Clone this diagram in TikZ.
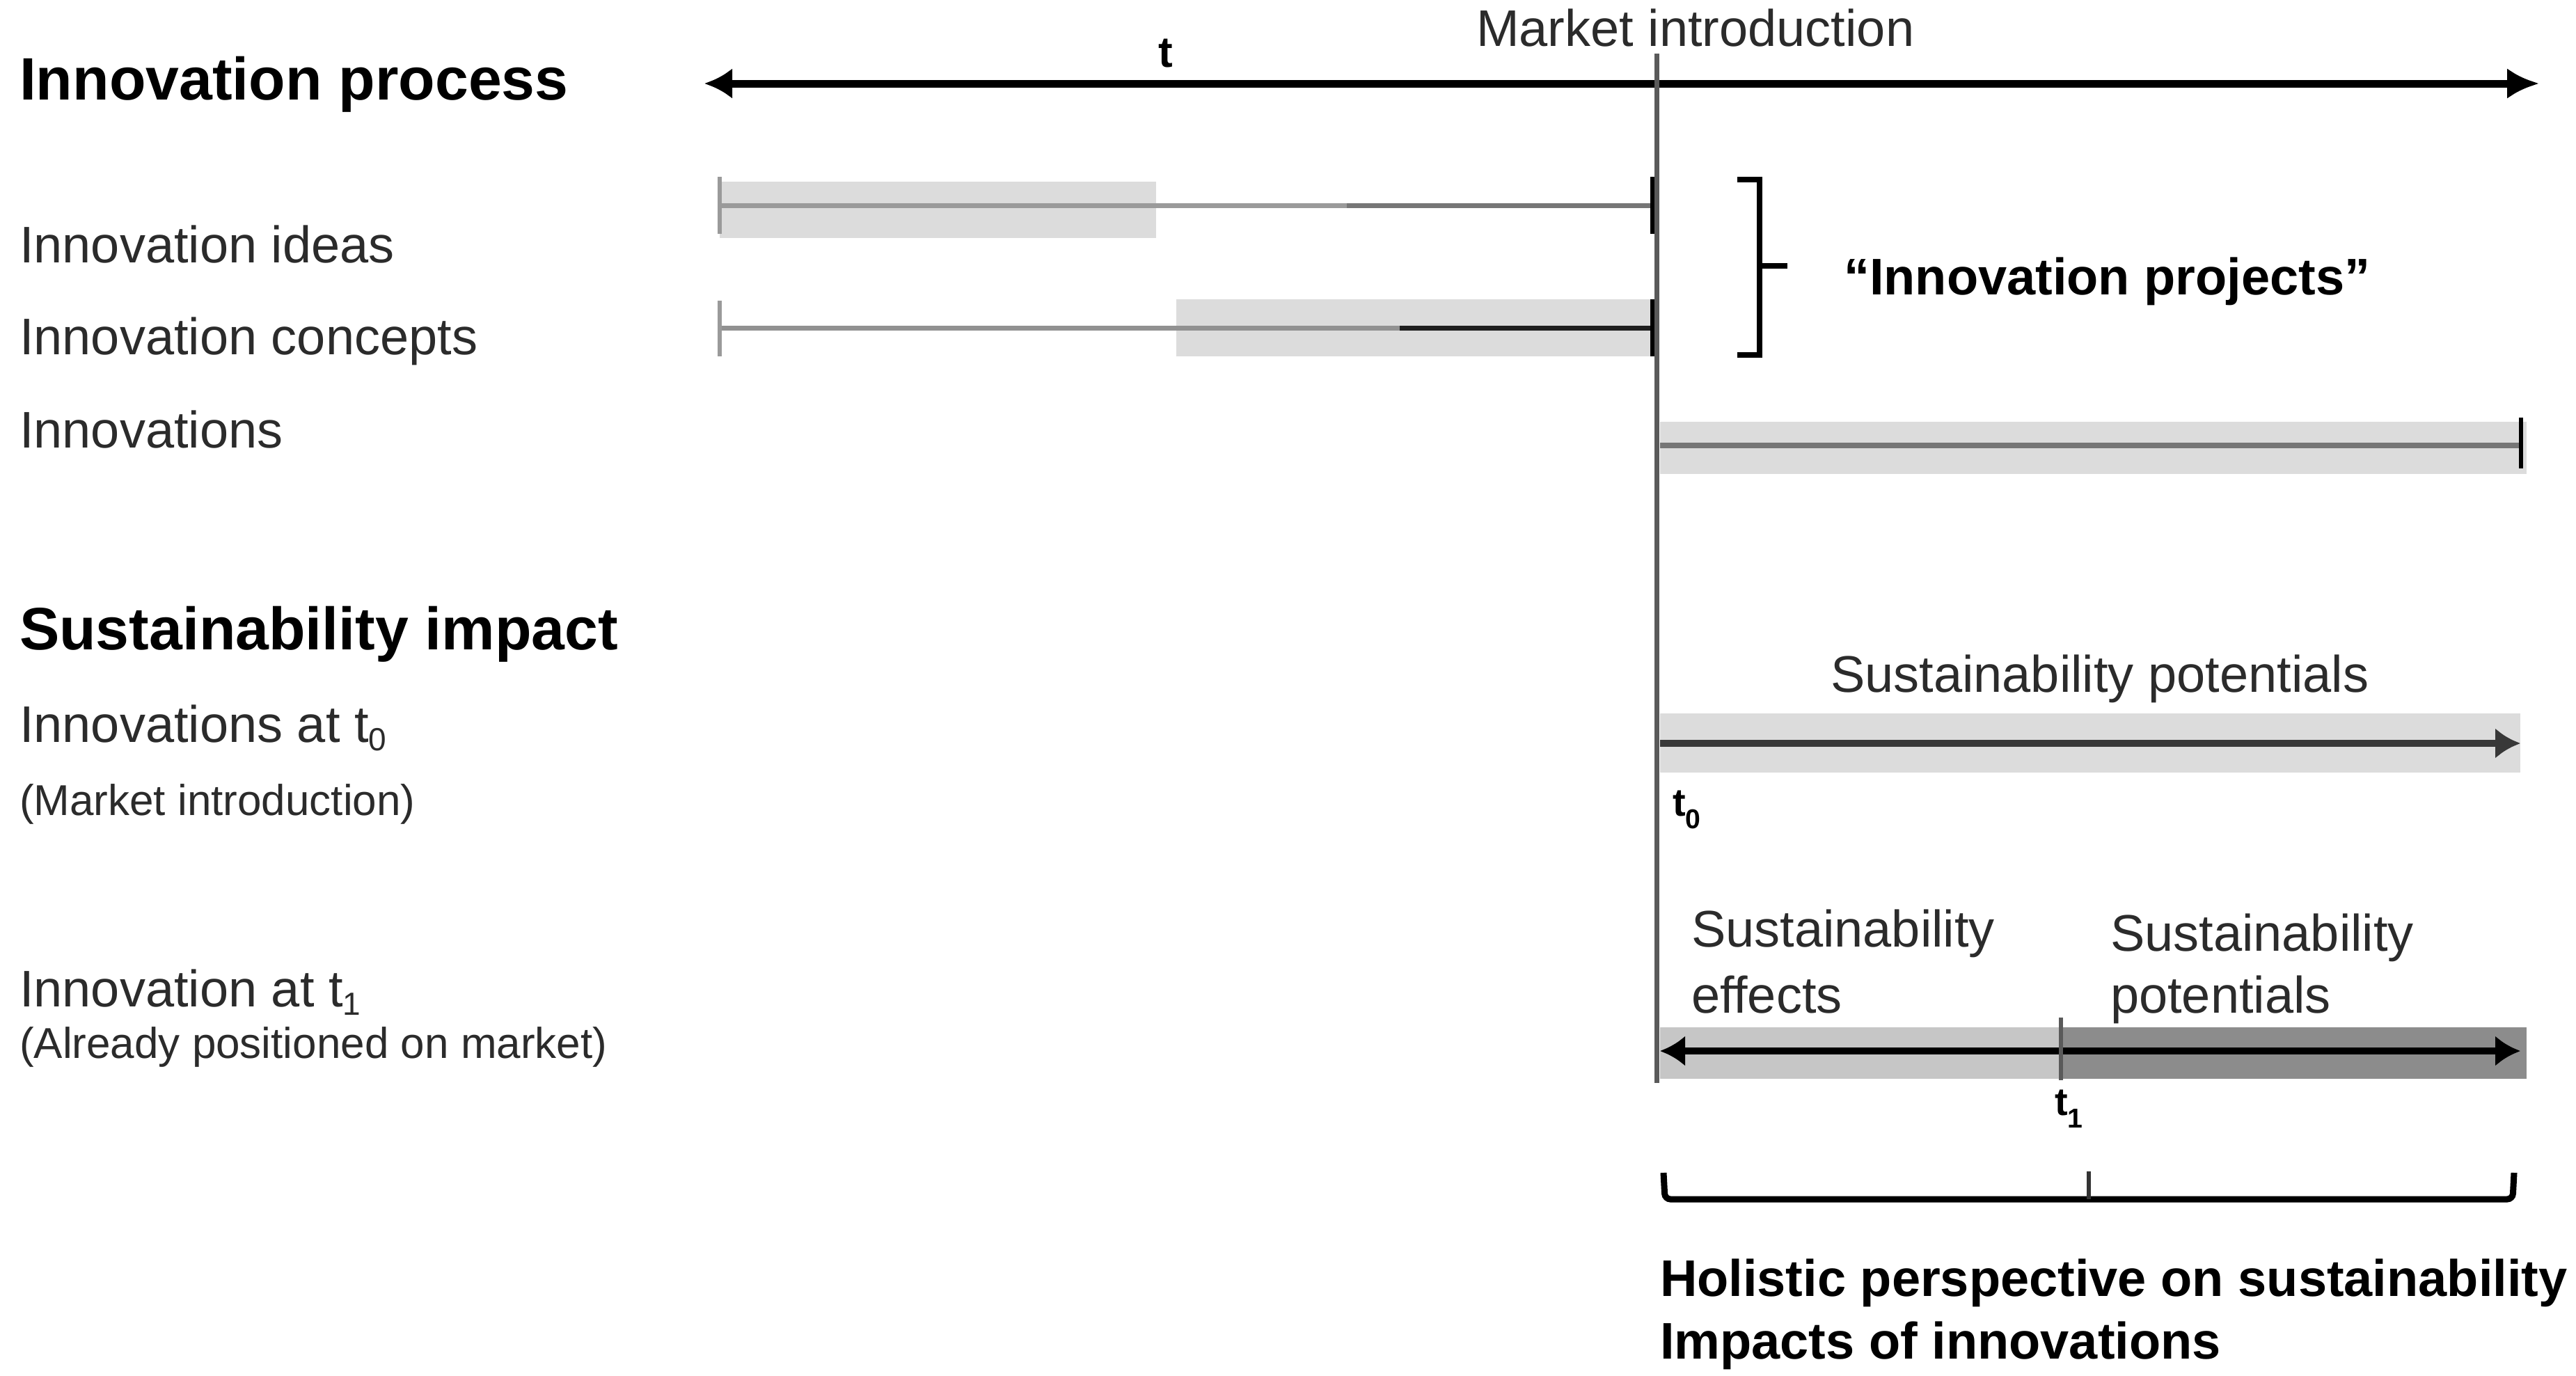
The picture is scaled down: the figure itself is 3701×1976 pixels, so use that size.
\documentclass[tikz,border=0pt]{standalone}
\usepackage{fontspec}
\setmainfont{Liberation Sans}
\usetikzlibrary{arrows.meta}
\definecolor{txt}{HTML}{2B2B2B}
\definecolor{barlight}{HTML}{DCDCDC}
\definecolor{barmid}{HTML}{C6C6C6}
\definecolor{bardark}{HTML}{8C8C8C}
\definecolor{linelight}{HTML}{9A9A9A}
\definecolor{linemid}{HTML}{767676}
\definecolor{linedark}{HTML}{1E1E1E}
\definecolor{markline}{HTML}{5A5A5A}
\newcommand\fsReg{\fontsize{74}{90}\selectfont}
\newcommand\fsSmall{\fontsize{62}{74}\selectfont}
\newcommand\fsHead{\fontsize{86}{100}\selectfont\bfseries}
\newcommand\fsTick{\fontsize{56}{66}\selectfont\bfseries}
\newcommand\fsT{\fontsize{62}{70}\selectfont\bfseries}
\newcommand\labsub[1]{\raisebox{-12pt}{\fontsize{46}{46}\selectfont #1}}
\begin{document}
\begin{tikzpicture}[x=1pt,y=-1pt,
  txtnode/.style={anchor=base west,inner sep=0pt,outer sep=0pt,text=txt,font=\fsReg},
  headnode/.style={txtnode,font=\fsHead,text=black},
  smallnode/.style={txtnode,font=\fsSmall},
  boldnode/.style={txtnode,font=\fsReg\bfseries,text=black},
  ticklbl/.style={txtnode,font=\fsTick,text=black},
  band/.style={fill=barlight,draw=none},
  procline/.style={line width=7pt},
  endtick/.style={line width=6pt},
  bigtip/.style={line width=11pt},
  bracepath/.style={draw=black,line width=8pt},
]
\useasboundingbox (0,0) rectangle (3701,1976);
\fill[white] (0,0) rectangle (3701,1976);

% ---------- coordinates ----------
\coordinate (tlL) at (1012,120);
\coordinate (tlR) at (3648,120);
\coordinate (mkTop) at (2380,77);
\coordinate (mkBot) at (2380,1556);

% ---------- innovation process ----------
\node[headnode] (hProc) at (28,143) {Innovation process};
\node[txtnode,font=\fsT,text=black] (tLbl) at (1664,96) {t};
\node[txtnode] (mkLbl) at (2121,66) {Market introduction};

\draw[bigtip,{Latex[length=40pt,width=44pt]}-{Latex[length=46pt,width=44pt]}] (tlL) -- (tlR);

% innovation ideas
\node[txtnode] (lIdeas) at (28,377) {Innovation ideas};
\fill[band] (1034,261) rectangle (1661,342);
\coordinate (idL) at (1034,295);
\coordinate (idM) at (1935,295);
\coordinate (idR) at (2374,295);
\draw[procline,linelight] (idL) -- (idM);
\draw[procline,linemid] (idM) -- (idR);
\draw[endtick,linelight] (1034,254) -- (1034,336);
\draw[endtick,black] (2374,254) -- (2374,336);

% innovation concepts
\node[txtnode] (lConc) at (28,509) {Innovation concepts};
\fill[band] (1690,430) rectangle (2374,512);
\coordinate (coL) at (1034,471);
\coordinate (coM) at (2011,471);
\coordinate (coR) at (2374,471);
\draw[procline,linemid!80!white] (coL) -- (coM);
\draw[procline,linedark] (coM) -- (coR);
\draw[endtick,linelight] (1034,432) -- (1034,512);
\draw[endtick,black] (2374,430) -- (2374,512);

% market introduction line
\draw[markline,line width=7pt] (mkTop) -- (mkBot);

% innovation projects brace
\coordinate (pbTop) at (2528,258);
\coordinate (pbMid) at (2528,382);
\coordinate (pbBot) at (2528,510);
\draw[bracepath] ([xshift=-32pt]pbTop) -- (pbTop) -- (pbBot) -- ([xshift=-32pt]pbBot);
\draw[bracepath] (pbMid) -- ([xshift=40pt]pbMid);
\node[boldnode] (proj) at (2649,423) {“Innovation projects”};

% innovations
\node[txtnode] (lInno) at (28,643) {Innovations};
\fill[band] (2385,606) rectangle (3630,681);
\coordinate (inL) at (2385,640);
\coordinate (inR) at (3622,640);
\draw[line width=8pt,linemid] (inL) -- (inR);
\draw[endtick,black] (3622,600) -- (3622,673);

% ---------- sustainability impact ----------
\node[headnode] (hSust) at (28,933) {Sustainability impact};
\node[txtnode] (lT0) at (28,1066) {Innovations at t\labsub{0}};
\node[smallnode] (lT0b) at (28,1171) {(Market introduction)};
\node[txtnode] (lT1) at (28,1446) {Innovation at t\labsub{1}};
\node[smallnode] (lT1b) at (28,1520) {(Already positioned on market)};

% t0 row
\node[txtnode] (spTop) at (2630,994) {Sustainability potentials};
\fill[band] (2385,1025) rectangle (3621,1110);
\coordinate (t0L) at (2385,1068);
\coordinate (t0R) at (3621,1068);
\draw[line width=10pt,color=black!78,-{Latex[length=36pt,width=44pt]}] (t0L) -- (t0R);
\node[ticklbl] (t0lbl) at (2403,1172) {t\textsubscript{0}};

% t1 row
\node[txtnode] (se1) at (2430,1360) {Sustainability};
\node[txtnode] (se2) at (2430,1455) {effects};
\node[txtnode] (sp1) at (3032,1366) {Sustainability};
\node[txtnode] (sp2) at (3032,1455) {potentials};
\fill[barmid] (2385,1476) rectangle (2961,1550);
\fill[bardark] (2961,1476) rectangle (3630,1550);
\coordinate (t1L) at (2385,1510);
\coordinate (t1R) at (3621,1510);
\draw[line width=10pt,black,{Latex[length=36pt,width=44pt]}-{Latex[length=36pt,width=44pt]}] (t1L) -- (t1R);
\draw[line width=6pt,markline] (2961,1462) -- (2961,1552);
\node[ticklbl] (t1lbl) at (2952,1602) {t\textsubscript{1}};

% bottom brace
\coordinate (bbL) at (2390,1685);
\coordinate (bbR) at (3612,1685);
\coordinate (bbM) at (3001,1723);
\draw[bracepath,line width=9pt,rounded corners=8pt] (bbL) -- (2392,1723) -- (3610,1723) -- (bbR);
\draw[line width=6pt,black!80] (bbM) -- ([yshift=40pt]bbM);
\node[boldnode] (hol1) at (2385,1862) {Holistic perspective on sustainability};
\node[boldnode] (hol2) at (2385,1952) {Impacts of innovations};
\end{tikzpicture}
\end{document}
